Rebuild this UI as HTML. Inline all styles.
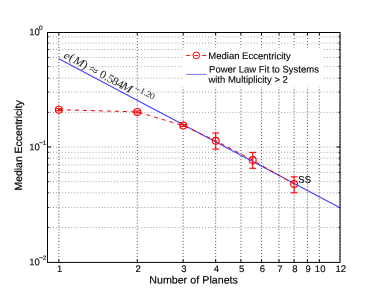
<!DOCTYPE html>
<html><head><meta charset="utf-8"><title>Median Eccentricity vs Number of Planets</title>
<style>html,body{margin:0;padding:0;background:#fff;}body{width:375px;height:299px;overflow:hidden;font-family:"Liberation Sans",sans-serif;}svg{display:block;will-change:transform;}text{font-family:"Liberation Sans",sans-serif;fill:#000;text-rendering:geometricPrecision;}.s text{font-family:"Liberation Serif",serif;}.i{font-style:italic;}</style>
</head><body>
<svg width="375" height="299" viewBox="0 0 375 299">
<rect x="0" y="0" width="375" height="299" fill="#fff"/>
<g id="grid">
<line x1="50.0" y1="112.39" x2="339.55" y2="112.39" stroke="#000" stroke-width="1" stroke-dasharray="1 2.04" fill="none" opacity="0.36"/>
<line x1="50.0" y1="92.12" x2="339.55" y2="92.12" stroke="#000" stroke-width="1" stroke-dasharray="1 2.04" fill="none" opacity="0.36"/>
<line x1="50.0" y1="78.20" x2="339.55" y2="78.20" stroke="#000" stroke-width="1" stroke-dasharray="1 2.04" fill="none" opacity="0.36"/>
<line x1="50.0" y1="66.59" x2="339.55" y2="66.59" stroke="#000" stroke-width="1" stroke-dasharray="1 2.04" fill="none" opacity="0.36"/>
<line x1="50.0" y1="57.48" x2="339.55" y2="57.48" stroke="#000" stroke-width="1" stroke-dasharray="1 2.04" fill="none" opacity="0.36"/>
<line x1="50.0" y1="49.50" x2="339.55" y2="49.50" stroke="#000" stroke-width="1" stroke-dasharray="1 2.04" fill="none" opacity="0.36"/>
<line x1="50.0" y1="43.10" x2="339.55" y2="43.10" stroke="#000" stroke-width="1" stroke-dasharray="1 2.04" fill="none" opacity="0.36"/>
<line x1="50.0" y1="36.80" x2="339.55" y2="36.80" stroke="#000" stroke-width="1" stroke-dasharray="1 2.04" fill="none" opacity="0.36"/>
<line x1="50.0" y1="227.47" x2="339.55" y2="227.47" stroke="#000" stroke-width="1" stroke-dasharray="1 2.04" fill="none" opacity="0.36"/>
<line x1="50.0" y1="207.50" x2="339.55" y2="207.50" stroke="#000" stroke-width="1" stroke-dasharray="1 2.04" fill="none" opacity="0.36"/>
<line x1="50.0" y1="192.82" x2="339.55" y2="192.82" stroke="#000" stroke-width="1" stroke-dasharray="1 2.04" fill="none" opacity="0.36"/>
<line x1="50.0" y1="181.67" x2="339.55" y2="181.67" stroke="#000" stroke-width="1" stroke-dasharray="1 2.04" fill="none" opacity="0.36"/>
<line x1="50.0" y1="172.56" x2="339.55" y2="172.56" stroke="#000" stroke-width="1" stroke-dasharray="1 2.04" fill="none" opacity="0.36"/>
<line x1="50.0" y1="164.86" x2="339.55" y2="164.86" stroke="#000" stroke-width="1" stroke-dasharray="1 2.04" fill="none" opacity="0.36"/>
<line x1="50.0" y1="158.18" x2="339.55" y2="158.18" stroke="#000" stroke-width="1" stroke-dasharray="1 2.04" fill="none" opacity="0.36"/>
<line x1="50.0" y1="152.30" x2="339.55" y2="152.30" stroke="#000" stroke-width="1" stroke-dasharray="1 2.04" fill="none" opacity="0.36"/>
<line x1="50.0" y1="147.03" x2="339.55" y2="147.03" stroke="#000" stroke-width="1" stroke-dasharray="1 2.04" fill="none" opacity="0.36"/>
<rect x="57.54" y="35.70" width="2.6" height="2.2" fill="#fff"/>
<rect x="135.96" y="35.70" width="2.6" height="2.2" fill="#fff"/>
<rect x="181.83" y="35.70" width="2.6" height="2.2" fill="#fff"/>
<rect x="214.38" y="35.70" width="2.6" height="2.2" fill="#fff"/>
<rect x="239.62" y="35.70" width="2.6" height="2.2" fill="#fff"/>
<rect x="260.25" y="35.70" width="2.6" height="2.2" fill="#fff"/>
<rect x="277.69" y="35.70" width="2.6" height="2.2" fill="#fff"/>
<rect x="292.79" y="35.70" width="2.6" height="2.2" fill="#fff"/>
<rect x="306.12" y="35.70" width="2.6" height="2.2" fill="#fff"/>
<rect x="318.04" y="35.70" width="2.6" height="2.2" fill="#fff"/>
<rect x="57.54" y="42.00" width="2.6" height="2.2" fill="#fff"/>
<rect x="135.96" y="42.00" width="2.6" height="2.2" fill="#fff"/>
<rect x="181.83" y="42.00" width="2.6" height="2.2" fill="#fff"/>
<rect x="214.38" y="42.00" width="2.6" height="2.2" fill="#fff"/>
<rect x="239.62" y="42.00" width="2.6" height="2.2" fill="#fff"/>
<rect x="260.25" y="42.00" width="2.6" height="2.2" fill="#fff"/>
<rect x="277.69" y="42.00" width="2.6" height="2.2" fill="#fff"/>
<rect x="292.79" y="42.00" width="2.6" height="2.2" fill="#fff"/>
<rect x="306.12" y="42.00" width="2.6" height="2.2" fill="#fff"/>
<rect x="318.04" y="42.00" width="2.6" height="2.2" fill="#fff"/>
<rect x="57.54" y="65.49" width="2.6" height="2.2" fill="#fff"/>
<rect x="135.96" y="65.49" width="2.6" height="2.2" fill="#fff"/>
<rect x="181.83" y="65.49" width="2.6" height="2.2" fill="#fff"/>
<rect x="214.38" y="65.49" width="2.6" height="2.2" fill="#fff"/>
<rect x="239.62" y="65.49" width="2.6" height="2.2" fill="#fff"/>
<rect x="260.25" y="65.49" width="2.6" height="2.2" fill="#fff"/>
<rect x="277.69" y="65.49" width="2.6" height="2.2" fill="#fff"/>
<rect x="292.79" y="65.49" width="2.6" height="2.2" fill="#fff"/>
<rect x="306.12" y="65.49" width="2.6" height="2.2" fill="#fff"/>
<rect x="318.04" y="65.49" width="2.6" height="2.2" fill="#fff"/>
<line x1="58.84" y1="35.0" x2="58.84" y2="261.90" stroke="#000" stroke-width="1" stroke-dasharray="1 2.027" fill="none" opacity="0.72"/>
<line x1="137.26" y1="35.0" x2="137.26" y2="261.90" stroke="#000" stroke-width="1" stroke-dasharray="1 2.027" fill="none" opacity="0.72"/>
<line x1="183.13" y1="35.0" x2="183.13" y2="261.90" stroke="#000" stroke-width="1" stroke-dasharray="1 2.027" fill="none" opacity="0.72"/>
<line x1="215.68" y1="35.0" x2="215.68" y2="261.90" stroke="#000" stroke-width="1" stroke-dasharray="1 2.027" fill="none" opacity="0.72"/>
<line x1="240.92" y1="35.0" x2="240.92" y2="261.90" stroke="#000" stroke-width="1" stroke-dasharray="1 2.027" fill="none" opacity="0.72"/>
<line x1="261.55" y1="35.0" x2="261.55" y2="261.90" stroke="#000" stroke-width="1" stroke-dasharray="1 2.027" fill="none" opacity="0.72"/>
<line x1="278.99" y1="35.0" x2="278.99" y2="261.90" stroke="#000" stroke-width="1" stroke-dasharray="1 2.027" fill="none" opacity="0.72"/>
<line x1="294.09" y1="35.0" x2="294.09" y2="261.90" stroke="#000" stroke-width="1" stroke-dasharray="1 2.027" fill="none" opacity="0.72"/>
<line x1="307.42" y1="35.0" x2="307.42" y2="261.90" stroke="#000" stroke-width="1" stroke-dasharray="1 2.027" fill="none" opacity="0.72"/>
<line x1="319.34" y1="35.0" x2="319.34" y2="261.90" stroke="#000" stroke-width="1" stroke-dasharray="1 2.027" fill="none" opacity="0.72"/>
<line x1="339.97" y1="35.0" x2="339.97" y2="261.90" stroke="#000" stroke-width="1" stroke-dasharray="1 2.027" fill="none" opacity="0.72"/>
</g>
<g id="ticks" stroke="#000" stroke-width="1" fill="none">
<line x1="58.84" y1="262.40" x2="58.84" y2="259.40"/>
<line x1="58.84" y1="32.50" x2="58.84" y2="34.90"/>
<line x1="137.26" y1="262.40" x2="137.26" y2="259.40"/>
<line x1="137.26" y1="32.50" x2="137.26" y2="34.90"/>
<line x1="183.13" y1="262.40" x2="183.13" y2="259.40"/>
<line x1="183.13" y1="32.50" x2="183.13" y2="34.90"/>
<line x1="215.68" y1="262.40" x2="215.68" y2="259.40"/>
<line x1="215.68" y1="32.50" x2="215.68" y2="34.90"/>
<line x1="240.92" y1="262.40" x2="240.92" y2="259.40"/>
<line x1="240.92" y1="32.50" x2="240.92" y2="34.90"/>
<line x1="261.55" y1="262.40" x2="261.55" y2="259.40"/>
<line x1="261.55" y1="32.50" x2="261.55" y2="34.90"/>
<line x1="278.99" y1="262.40" x2="278.99" y2="259.40"/>
<line x1="278.99" y1="32.50" x2="278.99" y2="34.90"/>
<line x1="294.09" y1="262.40" x2="294.09" y2="259.40"/>
<line x1="294.09" y1="32.50" x2="294.09" y2="34.90"/>
<line x1="307.42" y1="262.40" x2="307.42" y2="259.40"/>
<line x1="307.42" y1="32.50" x2="307.42" y2="34.90"/>
<line x1="319.34" y1="262.40" x2="319.34" y2="259.40"/>
<line x1="319.34" y1="32.50" x2="319.34" y2="34.90"/>
<line x1="47.50" y1="112.39" x2="49.10" opacity="0.85" y2="112.39"/>
<line x1="340.05" y1="112.39" x2="338.45" opacity="0.85" y2="112.39"/>
<line x1="47.50" y1="92.12" x2="49.10" opacity="0.85" y2="92.12"/>
<line x1="340.05" y1="92.12" x2="338.45" opacity="0.85" y2="92.12"/>
<line x1="47.50" y1="78.20" x2="49.10" opacity="0.85" y2="78.20"/>
<line x1="340.05" y1="78.20" x2="338.45" opacity="0.85" y2="78.20"/>
<line x1="47.50" y1="66.59" x2="49.10" opacity="0.85" y2="66.59"/>
<line x1="340.05" y1="66.59" x2="338.45" opacity="0.85" y2="66.59"/>
<line x1="47.50" y1="57.48" x2="49.10" opacity="0.85" y2="57.48"/>
<line x1="340.05" y1="57.48" x2="338.45" opacity="0.85" y2="57.48"/>
<line x1="47.50" y1="49.50" x2="49.10" opacity="0.85" y2="49.50"/>
<line x1="340.05" y1="49.50" x2="338.45" opacity="0.85" y2="49.50"/>
<line x1="47.50" y1="43.10" x2="49.10" opacity="0.85" y2="43.10"/>
<line x1="340.05" y1="43.10" x2="338.45" opacity="0.85" y2="43.10"/>
<line x1="47.50" y1="36.80" x2="49.10" opacity="0.85" y2="36.80"/>
<line x1="340.05" y1="36.80" x2="338.45" opacity="0.85" y2="36.80"/>
<line x1="47.50" y1="227.47" x2="49.10" opacity="0.85" y2="227.47"/>
<line x1="340.05" y1="227.47" x2="338.45" opacity="0.85" y2="227.47"/>
<line x1="47.50" y1="207.50" x2="49.10" opacity="0.85" y2="207.50"/>
<line x1="340.05" y1="207.50" x2="338.45" opacity="0.85" y2="207.50"/>
<line x1="47.50" y1="192.82" x2="49.10" opacity="0.85" y2="192.82"/>
<line x1="340.05" y1="192.82" x2="338.45" opacity="0.85" y2="192.82"/>
<line x1="47.50" y1="181.67" x2="49.10" opacity="0.85" y2="181.67"/>
<line x1="340.05" y1="181.67" x2="338.45" opacity="0.85" y2="181.67"/>
<line x1="47.50" y1="172.56" x2="49.10" opacity="0.85" y2="172.56"/>
<line x1="340.05" y1="172.56" x2="338.45" opacity="0.85" y2="172.56"/>
<line x1="47.50" y1="164.86" x2="49.10" opacity="0.85" y2="164.86"/>
<line x1="340.05" y1="164.86" x2="338.45" opacity="0.85" y2="164.86"/>
<line x1="47.50" y1="158.18" x2="49.10" opacity="0.85" y2="158.18"/>
<line x1="340.05" y1="158.18" x2="338.45" opacity="0.85" y2="158.18"/>
<line x1="47.50" y1="152.30" x2="49.10" opacity="0.85" y2="152.30"/>
<line x1="340.05" y1="152.30" x2="338.45" opacity="0.85" y2="152.30"/>
<line x1="47.50" y1="147.03" x2="51.00" y2="147.03"/>
<line x1="340.05" y1="147.03" x2="336.55" y2="147.03"/>
</g>
<rect x="182" y="47.5" width="140" height="40" fill="#fff"/>
<rect x="47.5" y="32.5" width="292.55" height="229.90" fill="none" stroke="#000" stroke-width="1"/>
<line x1="58.84" y1="58.83" x2="339.97" y2="207.86" stroke="#0000ff" stroke-width="1.1" opacity="0.74"/>
<path d="M58.85 109.70 L137.25 111.90 L183.20 125.60 L215.70 140.80 L252.70 160.10 L294.10 184.10" fill="none" stroke="#ff0000" stroke-width="1" stroke-dasharray="4 4"/>
<g stroke="#ff0000" stroke-width="1.1" fill="none">
<line x1="58.85" y1="108.7" x2="58.85" y2="110.7"/>
<line x1="55.45" y1="108.7" x2="62.25" y2="108.7"/>
<line x1="55.45" y1="110.7" x2="62.25" y2="110.7"/>
<circle cx="58.85" cy="109.7" r="3.45"/>
</g>
<g stroke="#ff0000" stroke-width="1.1" fill="none">
<line x1="137.25" y1="110.9" x2="137.25" y2="112.9"/>
<line x1="133.85" y1="110.9" x2="140.65" y2="110.9"/>
<line x1="133.85" y1="112.9" x2="140.65" y2="112.9"/>
<circle cx="137.25" cy="111.9" r="3.45"/>
</g>
<g stroke="#ff0000" stroke-width="1.1" fill="none">
<line x1="183.2" y1="124.6" x2="183.2" y2="126.6"/>
<line x1="179.80" y1="124.6" x2="186.60" y2="124.6"/>
<line x1="179.80" y1="126.6" x2="186.60" y2="126.6"/>
<circle cx="183.2" cy="125.6" r="3.45"/>
</g>
<g stroke="#ff0000" stroke-width="1.1" fill="none">
<line x1="215.7" y1="133.0" x2="215.7" y2="149.1"/>
<line x1="212.30" y1="133.0" x2="219.10" y2="133.0"/>
<line x1="212.30" y1="149.1" x2="219.10" y2="149.1"/>
<circle cx="215.7" cy="140.8" r="3.45"/>
</g>
<g stroke="#ff0000" stroke-width="1.1" fill="none">
<line x1="252.7" y1="152.4" x2="252.7" y2="168.3"/>
<line x1="249.30" y1="152.4" x2="256.10" y2="152.4"/>
<line x1="249.30" y1="168.3" x2="256.10" y2="168.3"/>
<circle cx="252.7" cy="160.1" r="3.45"/>
</g>
<g stroke="#ff0000" stroke-width="1.1" fill="none">
<line x1="294.1" y1="176.8" x2="294.1" y2="192.8"/>
<line x1="290.70" y1="176.8" x2="297.50" y2="176.8"/>
<line x1="290.70" y1="192.8" x2="297.50" y2="192.8"/>
<circle cx="294.1" cy="184.1" r="3.45"/>
</g>
<text transform="translate(298.30,182.70) rotate(0.03)" font-size="9.5" stroke="#000" stroke-width="0.12">SS</text>
<g stroke="#ff0000" stroke-width="1" fill="none"><line x1="186.2" y1="55.4" x2="206.4" y2="55.4" stroke-dasharray="4 4"/><circle cx="196.3" cy="55.4" r="3.35"/></g>
<line x1="186.2" y1="74.4" x2="206.4" y2="74.4" stroke="#0000ff" stroke-width="0.9" opacity="0.6"/>
<text transform="translate(208.30,59.10) rotate(0.03)" font-size="9.5" stroke="#000" stroke-width="0.12">Median Eccentricity</text>
<text transform="translate(209.10,72.40) rotate(0.03)" font-size="9.5" stroke="#000" stroke-width="0.12">Power Law Fit to Systems</text>
<text transform="translate(208.40,82.80) rotate(0.03)" font-size="9.5" stroke="#000" stroke-width="0.12">with Multiplicity &gt; 2</text>
<text transform="translate(59.64,271.95) rotate(0.03)" font-size="9.5" text-anchor="middle" stroke="#000" stroke-width="0.12">1</text>
<text transform="translate(138.06,271.95) rotate(0.03)" font-size="9.5" text-anchor="middle" stroke="#000" stroke-width="0.12">2</text>
<text transform="translate(183.93,271.95) rotate(0.03)" font-size="9.5" text-anchor="middle" stroke="#000" stroke-width="0.12">3</text>
<text transform="translate(216.48,271.95) rotate(0.03)" font-size="9.5" text-anchor="middle" stroke="#000" stroke-width="0.12">4</text>
<text transform="translate(241.72,271.95) rotate(0.03)" font-size="9.5" text-anchor="middle" stroke="#000" stroke-width="0.12">5</text>
<text transform="translate(262.35,271.95) rotate(0.03)" font-size="9.5" text-anchor="middle" stroke="#000" stroke-width="0.12">6</text>
<text transform="translate(279.79,271.95) rotate(0.03)" font-size="9.5" text-anchor="middle" stroke="#000" stroke-width="0.12">7</text>
<text transform="translate(294.89,271.95) rotate(0.03)" font-size="9.5" text-anchor="middle" stroke="#000" stroke-width="0.12">8</text>
<text transform="translate(308.22,271.95) rotate(0.03)" font-size="9.5" text-anchor="middle" stroke="#000" stroke-width="0.12">9</text>
<text transform="translate(320.14,271.95) rotate(0.03)" font-size="9.5" text-anchor="middle" stroke="#000" stroke-width="0.12">10</text>
<text transform="translate(340.77,271.95) rotate(0.03)" font-size="9.5" text-anchor="middle" stroke="#000" stroke-width="0.12">12</text>
<text transform="translate(29.30,35.15) rotate(0.03)" font-size="9.5" stroke="#000" stroke-width="0.12">10</text>
<text transform="translate(39.00,29.95) rotate(0.03)" font-size="6.5" stroke="#000" stroke-width="0.12">0</text>
<text transform="translate(29.30,150.23) rotate(0.03)" font-size="9.5" stroke="#000" stroke-width="0.12">10</text>
<text transform="translate(39.00,145.03) rotate(0.03)" font-size="6.5" stroke="#000" stroke-width="0.12">−1</text>
<text transform="translate(29.30,265.31) rotate(0.03)" font-size="9.5" stroke="#000" stroke-width="0.12">10</text>
<text transform="translate(39.00,260.11) rotate(0.03)" font-size="6.5" stroke="#000" stroke-width="0.12">−2</text>
<text transform="translate(149.3,283.45) rotate(0.03)" font-size="10.65" word-spacing="0.2" stroke="#000" stroke-width="0.15">Number of Planets</text>
<text transform="translate(21.95,190.4) rotate(-90)" font-size="10.4" stroke="#000" stroke-width="0.2">Median Eccentricity</text>
<g class="s" transform="translate(63.0,57.5) rotate(28.3)" text-anchor="middle" fill-opacity="0.88"><text transform="translate(2.58,0.00) scale(1.05,1)" font-size="11.60" class="i">e</text><text transform="translate(7.80,-0.60) scale(1.1,1)" font-size="11.60">(</text><text transform="translate(16.10,0.00) scale(1.1,1)" font-size="11.60" class="i">M</text><text transform="translate(23.30,-0.30) scale(1.1,1)" font-size="11.60">)</text><text transform="translate(33.00,0.20) scale(1.4,1)" font-size="11.60">≈</text><text transform="translate(43.40,-0.30) scale(1.02,1)" font-size="11.60">0</text><text transform="translate(47.60,0.00) scale(1,1)" font-size="11.60">.</text><text transform="translate(52.10,0.00) scale(1.02,1)" font-size="11.60">5</text><text transform="translate(57.50,0.00) scale(1.02,1)" font-size="11.60">8</text><text transform="translate(63.20,0.00) scale(1.02,1)" font-size="11.60">4</text><text transform="translate(70.40,-0.40) scale(1.15,1)" font-size="11.60" class="i">M</text><text transform="translate(80.90,-4.62) scale(1.3,1)" font-size="8.82">−</text><text transform="translate(86.00,-5.42) scale(1.1,1)" font-size="8.82">1</text><text transform="translate(89.40,-5.42) scale(1,1)" font-size="8.82">.</text><text transform="translate(92.70,-5.42) scale(1.1,1)" font-size="8.82">2</text><text transform="translate(96.90,-5.32) scale(1.1,1)" font-size="8.82">0</text></g>
</svg>
</body></html>
